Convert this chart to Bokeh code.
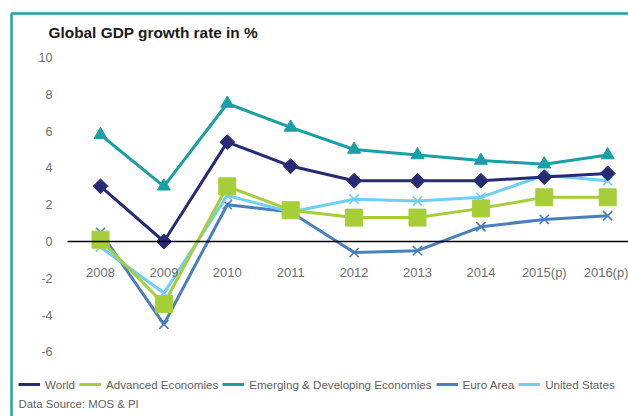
import math
from bokeh.plotting import figure
from bokeh.models import (LinearAxis, FixedTicker, Range1d, Legend, LegendItem,
                          Label, BoxAnnotation)
from bokeh.embed import file_html
from bokeh.resources import INLINE

years = ["2008", "2009", "2010", "2011", "2012", "2013", "2014", "2015(p)", "2016(p)"]
world = [3.0, 0.0, 5.4, 4.1, 3.3, 3.3, 3.3, 3.5, 3.7]
advanced = [0.1, -3.4, 3.0, 1.7, 1.3, 1.3, 1.8, 2.4, 2.4]
emerging = [5.8, 3.0, 7.5, 6.2, 5.0, 4.7, 4.4, 4.2, 4.7]
euro = [0.5, -4.5, 2.0, 1.6, -0.6, -0.5, 0.8, 1.2, 1.4]
us = [-0.3, -2.8, 2.5, 1.6, 2.3, 2.2, 2.4, 3.6, 3.3]
y_ticks = [-6, -4, -2, 0, 2, 4, 6, 8, 10]

FONT = "Liberation Sans"
GRAY = "#707070"
TEXT_GRAY = "#5f5f5f"
TEAL = "#1fa3a8"

xs = list(range(len(years)))

W, H = 628, 416
PX_X = 63.4      # pixels per category step
PX_Y = 18.4      # pixels per unit
X0_PIX = 100     # pixel of first category
Y0_PIX = 241     # pixel of zero (from top)
AX_LEFT = 67     # pixel where plot area begins

x_start = -X0_PIX / PX_X
x_end = x_start + W / PX_X
y_end = Y0_PIX / PX_Y
y_start = -(H - Y0_PIX) / PX_Y
y_axis_at = (AX_LEFT - X0_PIX) / PX_X

p = figure(width=W, height=H, output_backend="svg", toolbar_location=None,
           x_range=Range1d(x_start, x_end), y_range=Range1d(y_start, y_end),
           x_axis_type=None, y_axis_type=None,
           min_border_left=0, min_border_right=0, min_border_top=0, min_border_bottom=0)
p.outline_line_color = None
p.background_fill_color = "white"
p.border_fill_color = "white"
p.xgrid.visible = False
p.ygrid.visible = False

# axes
xaxis = LinearAxis(fixed_location=0, ticker=FixedTicker(ticks=xs),
                   bounds=(y_axis_at, x_end),
                   major_label_overrides={i: y for i, y in enumerate(years)})
xaxis.axis_line_color = "black"
xaxis.axis_line_width = 1.5
xaxis.major_tick_line_color = None
xaxis.minor_tick_line_color = None
xaxis.major_label_standoff = 17
xaxis.major_label_text_font = FONT
xaxis.major_label_text_font_size = "13px"
xaxis.major_label_text_color = GRAY
p.add_layout(xaxis, "below")

yaxis = LinearAxis(fixed_location=y_axis_at, ticker=FixedTicker(ticks=y_ticks),
                   major_label_overrides={t: str(t) for t in y_ticks})
yaxis.axis_line_color = None
yaxis.major_tick_line_color = None
yaxis.minor_tick_line_color = None
yaxis.major_label_standoff = 9
yaxis.major_label_text_font = FONT
yaxis.major_label_text_font_size = "12.5px"
yaxis.major_label_text_color = GRAY
p.add_layout(yaxis, "left")

series = [
    ("Euro Area", euro, "#4a7ebf", "x", 13, 0),
    ("United States", us, "#6dcff6", "x", 13, 0),
    ("Advanced Economies", advanced, "#a6ce39", "square", 17, 0),
    ("Emerging & Developing Economies", emerging, "#1a9fa6", "triangle", 13, 0),
    ("World", world, "#272a74", "square", 10.5, math.pi / 4),
]
lines = {}
for name, vals, color, marker, size, ang in series:
    r = p.line(xs, vals, line_color=color, line_width=3)
    lines[name] = r
    if marker == "x":
        p.scatter(xs, vals, marker="x", size=size, line_color=color, line_width=1.6)
    else:
        p.scatter(xs, vals, marker=marker, size=size, angle=ang,
                  fill_color=color, line_color=color)

order = ["World", "Advanced Economies", "Emerging & Developing Economies", "Euro Area", "United States"]
legend = Legend(items=[LegendItem(label=n, renderers=[lines[n]]) for n in order],
                orientation="horizontal", location=(18, H - 392),
                padding=0, margin=0, spacing=4, label_standoff=5,
                glyph_width=22, glyph_height=16,
                label_text_font=FONT, label_text_font_size="11.6px",
                label_text_color=TEXT_GRAY,
                border_line_alpha=0, background_fill_alpha=0)
p.add_layout(legend, "center")

p.add_layout(Label(x=48, y=H - 31.5, x_units="screen", y_units="screen",
                   text="Global GDP growth rate in %", text_font=FONT,
                   text_font_size="15.4px", text_font_style="bold", text_color="#1a1a1a",
                   text_baseline="middle"))
p.add_layout(Label(x=18, y=H - 403, x_units="screen", y_units="screen",
                   text="Data Source: MOS & PI", text_font=FONT,
                   text_font_size="11.4px", text_color=TEXT_GRAY,
                   text_baseline="middle"))

p.add_layout(BoxAnnotation(left=11, right=W + 50, top=H - 13, bottom=-50,
                           left_units="screen", right_units="screen",
                           top_units="screen", bottom_units="screen",
                           fill_alpha=0, line_color=TEAL, line_alpha=1.0, line_width=2.5))

open("out.html", "w").write(file_html(p, INLINE))
